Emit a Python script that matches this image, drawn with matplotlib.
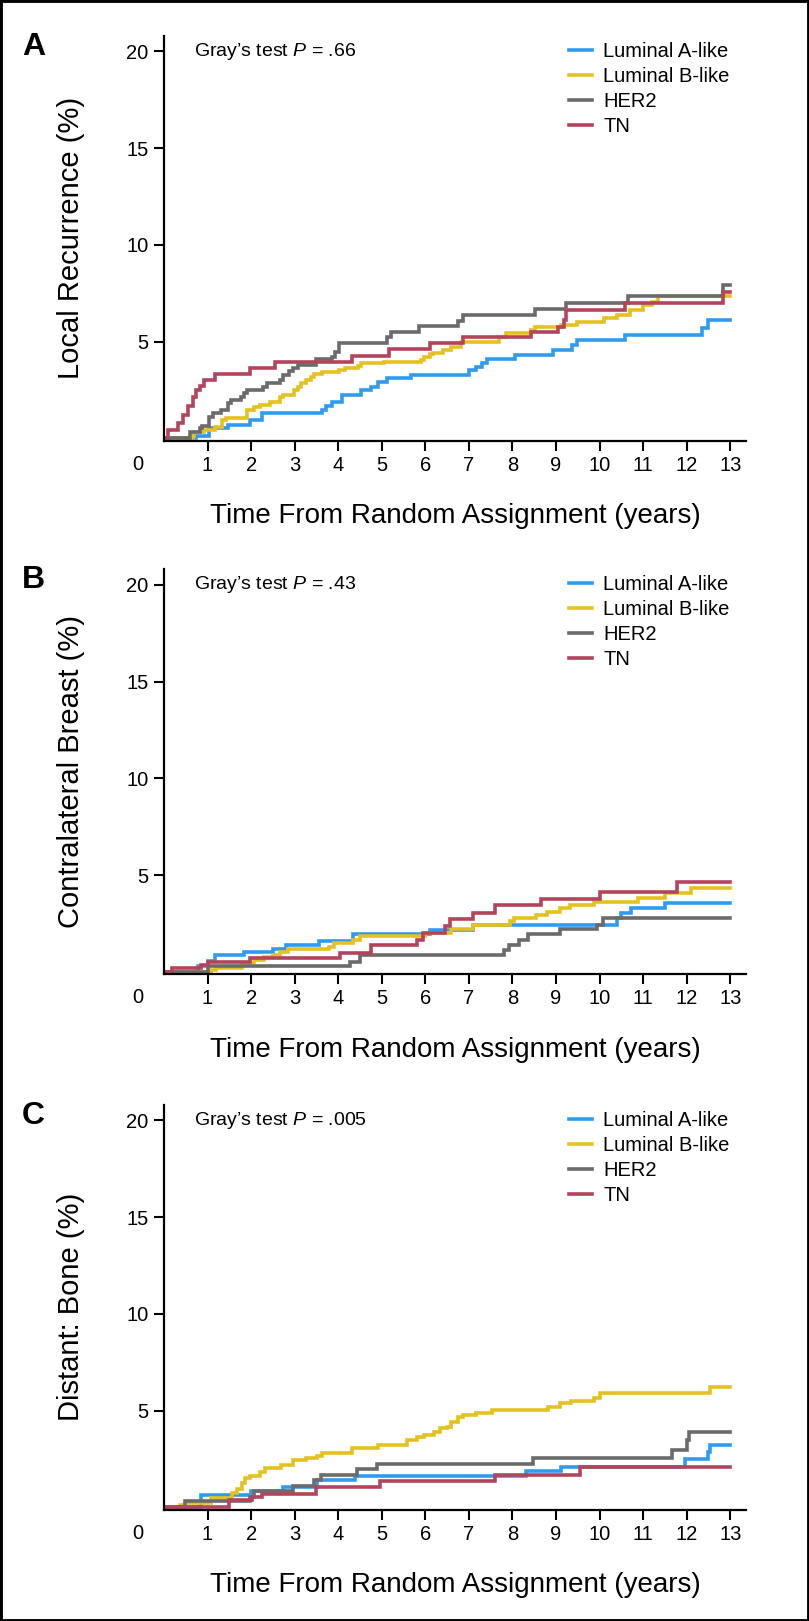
import matplotlib
matplotlib.use('Agg')
import matplotlib.pyplot as plt

plt.rcParams['font.family'] = ['Liberation Sans', 'DejaVu Sans']
plt.rcParams['mathtext.fontset'] = 'custom'
plt.rcParams['mathtext.rm'] = 'Liberation Sans'
plt.rcParams['mathtext.it'] = 'Liberation Sans:italic'

# --- dati (anni, incidenza cumulativa %) ---
groups = ["Luminal A-like", "Luminal B-like", "HER2", "TN"]
colors = ["#2f9bf0", "#e5c11f", "#6b6b6b", "#b3445c"]
x_ticks = list(range(1, 14))
y_ticks = [5, 10, 15, 20]

# A: Local Recurrence
lum_a_t_A = [0, 0.74, 1.04, 1.46, 1.98, 2.24, 3.63, 3.71, 3.86, 4.08, 4.53, 4.76, 4.91, 5.13, 5.66, 7.01,
             7.16, 7.31, 7.42, 8.06, 8.92, 9.37, 9.49, 10.58, 12.34, 12.49, 13.0]
lum_a_v_A = [0, 0.1, 0.52, 0.69, 0.95, 1.29, 1.46, 1.67, 1.89, 2.24, 2.5, 2.67, 2.93, 3.1, 3.27, 3.53,
             3.7, 3.87, 4.08, 4.31, 4.56, 4.82, 5.08, 5.34, 5.68, 6.11, 6.11]
lum_b_t_A = [0, 0.67, 0.7, 0.93, 1.16, 1.34, 1.42, 1.91, 2.06, 2.21, 2.43, 2.66, 2.73, 2.99, 3.07, 3.15,
             3.26, 3.37, 3.44, 3.63, 4.01, 4.16, 4.46, 4.53, 5.06, 5.89, 5.96, 6.11, 6.18, 6.41, 6.6,
             6.82, 7.69, 7.84, 8.43, 8.51, 9.11, 9.49, 10.09, 10.39, 10.69, 10.99, 11.2, 11.35, 13.0]
lum_b_v_A = [0, 0.1, 0.34, 0.43, 0.6, 0.95, 1.05, 1.46, 1.63, 1.72, 1.9, 2.15, 2.25, 2.5, 2.64, 2.84,
             3.01, 3.15, 3.34, 3.45, 3.53, 3.62, 3.75, 3.87, 3.95, 4.05, 4.22, 4.34, 4.43, 4.56, 4.7,
             4.98, 5.22, 5.42, 5.59, 5.77, 5.85, 6.03, 6.2, 6.37, 6.63, 6.89, 7.06, 7.35, 7.35]
her2_t_A = [0, 0.59, 0.82, 0.88, 1.04, 1.12, 1.31, 1.46, 1.53, 1.76, 1.83, 1.91, 2.28, 2.36, 2.66, 2.73,
            2.88, 2.96, 3.07, 3.48, 3.86, 3.93, 4.01, 5.13, 5.2, 5.85, 6.75, 6.86, 8.51, 9.22, 10.65,
            12.83, 13.0]
her2_v_A = [0, 0.34, 0.52, 0.63, 1.12, 1.29, 1.46, 1.81, 1.98, 2.15, 2.32, 2.5, 2.67, 2.84, 3.01, 3.27,
            3.5, 3.62, 3.79, 4.08, 4.22, 4.48, 4.91, 5.25, 5.51, 5.8, 6.08, 6.37, 6.66, 6.99, 7.34,
            7.94, 7.94]
tn_t_A = [0, 0.1, 0.33, 0.44, 0.56, 0.67, 0.74, 0.82, 0.93, 1.16, 1.97, 2.54, 4.31, 5.17, 6.11, 6.86,
          8.42, 9.04, 9.18, 9.23, 10.58, 12.83, 13.0]
tn_v_A = [0, 0.43, 0.77, 1.2, 1.67, 2.15, 2.5, 2.7, 3.01, 3.34, 3.62, 3.92, 4.27, 4.6, 4.91, 5.22,
          5.51, 5.77, 6.13, 6.63, 6.97, 7.58, 7.58]

# B: Contralateral Breast
lum_a_t_B = [0, 0.78, 1.0, 1.16, 1.83, 2.5, 2.81, 3.56, 4.35, 6.1, 7.09, 10.4, 10.5, 10.73, 11.49, 13.0]
lum_a_v_B = [0, 0.28, 0.55, 0.88, 1.05, 1.2, 1.4, 1.6, 1.95, 2.15, 2.43, 2.78, 3.03, 3.29, 3.58, 3.58]
lum_b_t_B = [0, 1.08, 1.2, 1.8, 2.06, 2.3, 2.5, 2.66, 2.85, 3.78, 3.9, 4.35, 4.5, 6.0, 6.6, 7.09, 7.94,
             8.03, 8.55, 8.79, 9.08, 9.31, 9.88, 10.87, 11.49, 12.1, 13.0]
lum_b_v_B = [0, 0.1, 0.2, 0.45, 0.6, 0.75, 0.86, 1.05, 1.2, 1.3, 1.48, 1.65, 1.85, 2.0, 2.2, 2.43, 2.64,
             2.78, 2.95, 3.12, 3.29, 3.46, 3.63, 3.81, 4.07, 4.36, 4.36]
her2_t_B = [0, 1.0, 4.27, 4.5, 7.8, 7.91, 8.14, 8.35, 9.1, 9.93, 10.07, 13.0]
her2_v_B = [0, 0.28, 0.53, 0.88, 1.14, 1.4, 1.65, 1.95, 2.2, 2.43, 2.78, 2.78]
tn_t_B = [0, 0.18, 0.86, 1.0, 1.98, 4.05, 4.76, 5.81, 5.95, 6.46, 6.56, 7.09, 7.6, 8.65, 10.02, 11.77, 13.0]
tn_v_B = [0, 0.18, 0.36, 0.5, 0.71, 0.96, 1.4, 1.65, 2.0, 2.35, 2.72, 3.07, 3.46, 3.76, 4.12, 4.64, 4.64]

# C: Distant: Bone
lum_a_t_C = [0, 0.86, 2.0, 2.73, 3.52, 4.38, 8.32, 9.11, 11.95, 12.49, 12.53, 13.0]
lum_a_v_C = [0, 0.64, 0.86, 1.07, 1.41, 1.62, 1.88, 2.1, 2.48, 2.84, 3.22, 3.22]
lum_b_t_C = [0, 0.37, 0.48, 1.08, 1.57, 1.68, 1.79, 1.87, 1.98, 2.21, 2.32, 2.69, 2.96, 3.26, 3.52, 3.63,
             4.31, 4.91, 5.59, 5.81, 5.96, 6.19, 6.34, 6.49, 6.6, 6.75, 6.86, 7.16, 7.54, 8.81, 9.08,
             9.34, 9.86, 10.01, 12.53, 13.0]
lum_b_v_C = [0, 0.1, 0.24, 0.47, 0.72, 0.93, 1.24, 1.5, 1.62, 1.85, 2.02, 2.19, 2.45, 2.53, 2.66, 2.83,
             3.05, 3.22, 3.48, 3.66, 3.74, 3.91, 4.09, 4.17, 4.4, 4.69, 4.78, 4.9, 5.04, 5.17, 5.38,
             5.52, 5.64, 5.9, 6.21, 6.21]
her2_t_C = [0, 0.48, 1.98, 2.06, 2.96, 3.45, 3.6, 4.42, 4.9, 8.48, 11.67, 12.0, 12.06, 13.0]
her2_v_C = [0, 0.33, 0.55, 0.86, 1.1, 1.41, 1.67, 1.96, 2.23, 2.54, 2.97, 3.49, 3.91, 3.91]
tn_t_C = [0, 1.49, 2.02, 2.24, 3.48, 4.95, 7.61, 9.56, 13.0]
tn_v_C = [0, 0.4, 0.55, 0.69, 1.07, 1.36, 1.68, 2.06, 2.06]

panel_letters = ["A", "B", "C"]
y_labels = ["Local Recurrence (%)", "Contralateral Breast (%)", "Distant: Bone (%)"]
p_values = [".66", ".43", ".005"]
x_label = "Time From Random Assignment (years)"


# Disegna un pannello con le quattro curve a gradini.
def plot_panel(ax, curves, p_val):
    for (t, v), name, c in zip(curves, groups, colors):
        ax.step(t, v, where='post', color=c, lw=2.6, label=name, solid_joinstyle='miter')
    ax.set_xlim(0, 13.36)
    ax.set_ylim(-0.12, 20.8)
    ax.set_xticks(x_ticks)
    ax.set_yticks(y_ticks)
    ax.spines['top'].set_visible(False)
    ax.spines['right'].set_visible(False)
    ax.spines['left'].set_linewidth(1.6)
    ax.spines['bottom'].set_linewidth(1.6)
    ax.tick_params(axis='both', direction='out', length=7, width=1.5, labelsize=14.5, pad=4)
    ax.text(0.7, 20, "Gray\u2019s test $P$ = " + p_val, fontsize=14, va='center', ha='left')
    ax.legend(loc='upper left', bbox_to_anchor=(9.3, 20.5), bbox_transform=ax.transData,
              frameon=False, fontsize=14.5, handlelength=1.15, handletextpad=0.55,
              labelspacing=0.3, borderpad=0, borderaxespad=0)
    # lo zero condiviso nell'angolo
    ax.annotate("0", xy=(0, 0), xycoords='axes fraction', xytext=(-19, -17),
                textcoords='offset points', ha='center', va='center', fontsize=14.5)
    ax.text(0.5, -0.187, x_label, transform=ax.transAxes, ha='center', va='center', fontsize=20)


fig = plt.figure(figsize=(8.09, 16.21), dpi=100)

all_curves = [
    [(lum_a_t_A, lum_a_v_A), (lum_b_t_A, lum_b_v_A), (her2_t_A, her2_v_A), (tn_t_A, tn_v_A)],
    [(lum_a_t_B, lum_a_v_B), (lum_b_t_B, lum_b_v_B), (her2_t_B, her2_v_B), (tn_t_B, tn_v_B)],
    [(lum_a_t_C, lum_a_v_C), (lum_b_t_C, lum_b_v_C), (her2_t_C, her2_v_C), (tn_t_C, tn_v_C)],
]
bottoms = [0.7282, 0.3990, 0.0687]
letter_y = [46.7, 580.4, 1115.7]

for i in range(3):
    ax = fig.add_axes([0.2027, bottoms[i], 0.7194, 0.2497])
    plot_panel(ax, all_curves[i], p_values[i])
    mid = bottoms[i] + 0.2497 / 2
    fig.text(71 / 809, mid, y_labels[i], rotation=90, ha='center', va='center', fontsize=21)
    fig.text(33.5 / 809, 1 - letter_y[i] / 1621, panel_letters[i], fontsize=23, fontweight='bold',
             ha='center', va='center')

# cornice nera attorno alla figura
fig.patches.append(plt.Rectangle((0, 0), 1, 1, transform=fig.transFigure, fill=False,
                                 edgecolor='black', linewidth=3.5))

fig.savefig("out.png", dpi=100)
